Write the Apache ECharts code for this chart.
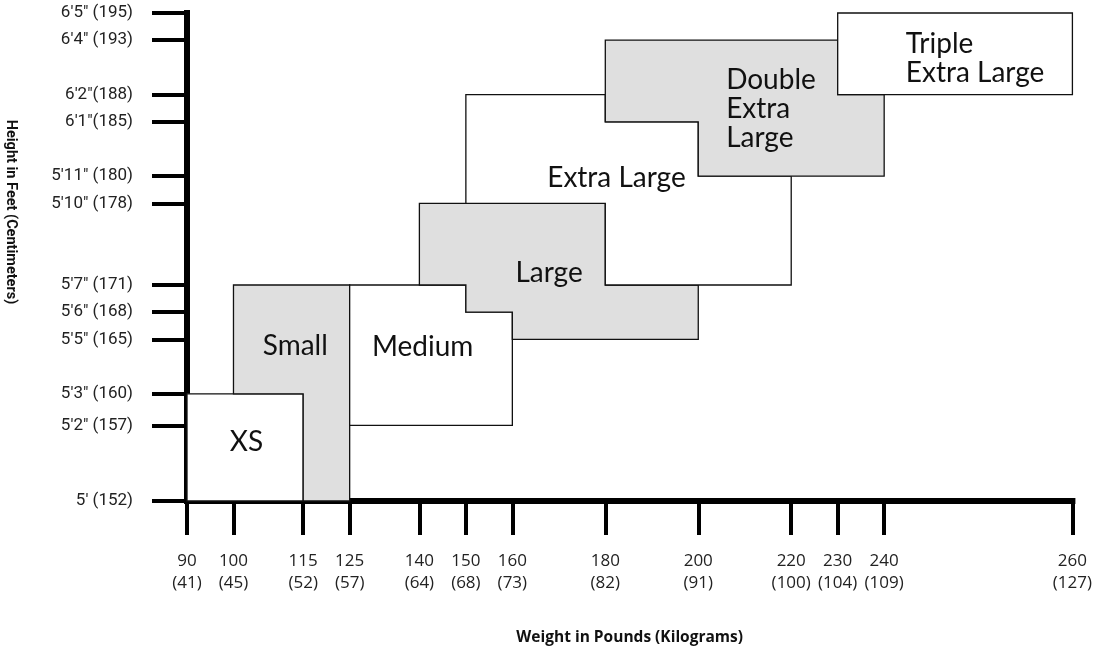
<!DOCTYPE html>
<html>
<head>
<meta charset="utf-8">
<style>
  html, body { margin: 0; padding: 0; background: #fff; }
  #chart { width: 1095px; height: 651px; }
</style>
<script src="https://cdn.jsdelivr.net/npm/echarts@6/dist/echarts.min.js"></script>
</head>
<body>
<div id="chart"></div>
<script>
// weight ticks (lb) and their kg
var weightTicks = [90, 100, 115, 125, 140, 150, 160, 180, 200, 220, 230, 240, 260];
var weightKg = [41, 45, 52, 57, 64, 68, 73, 82, 91, 100, 104, 109, 127];

// height ticks in inches, and printed labels
var heightTicks = [60, 62, 63, 65, 66, 67, 70, 71, 73, 74, 76, 77];
var heightLabels = ["5' (152)", "5'2\" (157)", "5'3\" (160)", "5'5\" (165)", "5'6\" (168)", "5'7\" (171)",
  "5'10\" (178)", "5'11\" (180)", "6'1\"(185)", "6'2\"(188)", "6'4\" (193)", "6'5\" (195)"];

// size regions, corners as [weight lb, height in]
var sizeNames = ['XS', 'Small', 'Medium', 'Large', 'Extra Large', 'Double\nExtra\nLarge', 'Triple\nExtra Large'];
var xsOutline = [[90, 63], [115, 63], [115, 60], [90, 60]];
var smallOutline = [[100, 67], [125, 67], [125, 60], [115, 60], [115, 63], [100, 63]];
var mediumOutline = [[125, 67], [150, 67], [150, 66], [160, 66], [160, 62], [125, 62]];
var largeOutline = [[140, 70], [180, 70], [180, 67], [200, 67], [200, 65], [160, 65], [160, 66], [150, 66], [150, 67], [140, 67]];
var xlOutline = [[150, 74], [180, 74], [180, 73], [200, 73], [200, 71], [220, 71], [220, 67], [180, 67], [180, 70], [150, 70]];
var xxlOutline = [[180, 76], [230, 76], [230, 74], [240, 74], [240, 71], [200, 71], [200, 73], [180, 73]];
var xxxlOutline = [[230, 77], [260, 77], [260, 74], [230, 74]];
// where each name is written
var namePos = [[102.8, 61.55], [113.3, 64.76], [140.7, 64.73], [167.9, 67.43], [182.4, 70.94], [206, 73.46], [242.3, 75.34]];

var outlines = [xsOutline, smallOutline, mediumOutline, largeOutline, xlOutline, xxlOutline, xxxlOutline];
var shaded = [false, true, false, true, false, true, false];
var leftAligned = [false, false, false, false, false, true, true];

// the printed scale is stretched past 240 lb and below 5'3"
function wx(lb) {
  return lb <= 240 ? lb : 240 + (lb - 240) * 2.025;
}
function hy(h) {
  if (h >= 63) return h;
  if (h >= 62) return 63 - (63 - h) * 1.16;
  return 61.84 - (62 - h) * 1.39;
}

var chart = echarts.init(document.getElementById('chart'));

var option = {
  animation: false,
  grid: { left: 187, right: 18, top: 13, bottom: 141 },
  xAxis: {
    type: 'value',
    min: 90,
    max: wx(260),
    name: 'Weight in Pounds (Kilograms)',
    nameLocation: 'middle',
    nameGap: 129,
    nameTextStyle: { fontFamily: 'Open Sans', fontWeight: 'bold', fontSize: 15.5, color: '#111' },
    splitLine: { show: false },
    axisLine: { lineStyle: { color: '#000', width: 6, cap: 'square' } },
    axisTick: {
      customValues: weightTicks.map(wx),
      length: 34,
      lineStyle: { color: '#000', width: 4 }
    },
    axisLabel: {
      customValues: weightTicks.map(wx),
      margin: 49,
      fontFamily: 'Open Sans',
      fontSize: 17,
      lineHeight: 22,
      color: '#222',
      formatter: function (v) {
        for (var i = 0; i < weightTicks.length; i++) {
          if (Math.abs(wx(weightTicks[i]) - v) < 0.01) return weightTicks[i] + '\n(' + weightKg[i] + ')';
        }
        return '';
      }
    }
  },
  yAxis: {
    type: 'value',
    min: hy(60),
    max: 77,
    splitLine: { show: false },
    axisLine: { show: true, lineStyle: { color: '#000', width: 6, cap: 'square' } },
    axisTick: {
      show: true,
      customValues: heightTicks.map(hy),
      length: 35,
      lineStyle: { color: '#000', width: 4 }
    },
    axisLabel: {
      customValues: heightTicks.map(hy),
      margin: 54,
      fontFamily: 'Roboto',
      fontSize: 17,
      color: '#222',
      formatter: function (v) {
        for (var i = 0; i < heightTicks.length; i++) {
          if (Math.abs(hy(heightTicks[i]) - v) < 0.01) return heightLabels[i];
        }
        return '';
      }
    }
  },
  graphic: [{
    type: 'text',
    x: 11,
    y: 212,
    rotation: -Math.PI / 2,
    style: {
      text: 'Height in Feet (Centimeters)',
      fontFamily: 'Roboto',
      fontWeight: 'bold',
      fontSize: 14.5,
      fill: '#111',
      align: 'center',
      verticalAlign: 'middle'
    }
  }],
  series: [{
    type: 'custom',
    clip: false,
    data: sizeNames.map(function (n, i) { return [namePos[i][0], namePos[i][1]]; }),
    renderItem: function (params, api) {
      var i = params.dataIndex;
      var pts = outlines[i].map(function (p) {
        return api.coord([wx(p[0]), hy(p[1])]);
      });
      var at = api.coord([wx(namePos[i][0]), hy(namePos[i][1])]);
      return {
        type: 'group',
        children: [{
          type: 'polygon',
          shape: { points: pts },
          style: { fill: shaded[i] ? '#dfdfdf' : '#fff', stroke: '#111', lineWidth: 1.3 }
        }, {
          type: 'text',
          x: at[0],
          y: at[1],
          style: {
            text: sizeNames[i],
            fontFamily: 'Lato',
            fontSize: 28,
            lineHeight: 29,
            fill: '#111',
            align: leftAligned[i] ? 'left' : 'center',
            verticalAlign: 'middle'
          }
        }]
      };
    }
  }]
};

chart.setOption(option);
</script>
</body>
</html>
